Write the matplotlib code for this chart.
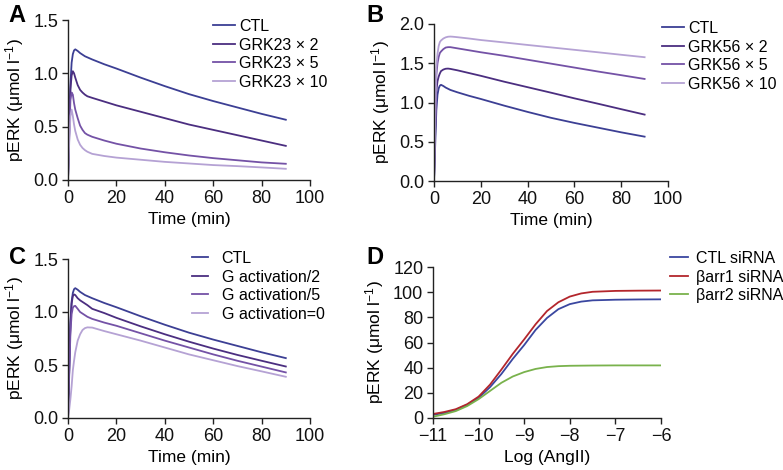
import matplotlib
matplotlib.use("Agg")
import matplotlib.pyplot as plt

plt.rcParams['font.family'] = ['Liberation Sans', 'DejaVu Sans']
plt.rcParams['mathtext.fontset'] = 'custom'
plt.rcParams['mathtext.rm'] = 'Liberation Sans'
plt.rcParams['mathtext.it'] = 'Liberation Sans:italic'
plt.rcParams['font.size'] = 12

# ---------------- data ----------------
time_min = [0, 0.5, 1, 1.5, 2, 2.5, 3, 4, 5, 6, 7, 8, 10, 15, 20, 30, 40, 50, 60, 70, 80, 90]

ctl = [0, 0.45, 0.9, 1.1, 1.18, 1.215, 1.225, 1.21, 1.19, 1.175, 1.16, 1.15, 1.13, 1.085, 1.045,
       0.96, 0.88, 0.805, 0.74, 0.68, 0.62, 0.565]

grk23_x2 = [0, 0.45, 0.85, 0.98, 1.02, 1.0, 0.96, 0.89, 0.845, 0.82, 0.8, 0.785, 0.77, 0.735, 0.7,
            0.64, 0.58, 0.52, 0.47, 0.42, 0.37, 0.32]
grk23_x5 = [0, 0.4, 0.75, 0.82, 0.8, 0.72, 0.66, 0.58, 0.51, 0.47, 0.44, 0.425, 0.405, 0.37, 0.34,
            0.295, 0.26, 0.23, 0.205, 0.185, 0.165, 0.152]
grk23_x10 = [0, 0.35, 0.6, 0.66, 0.6, 0.52, 0.46, 0.38, 0.33, 0.3, 0.28, 0.265, 0.245, 0.225, 0.21,
             0.19, 0.17, 0.155, 0.14, 0.13, 0.118, 0.105]

grk56_x2 = [0, 0.6, 1.15, 1.27, 1.33, 1.37, 1.40, 1.42, 1.43, 1.432, 1.428, 1.422, 1.41, 1.375, 1.34,
            1.265, 1.195, 1.125, 1.053, 0.985, 0.915, 0.846]
grk56_x5 = [0, 0.7, 1.35, 1.5, 1.58, 1.63, 1.65, 1.68, 1.70, 1.705, 1.705, 1.70, 1.69, 1.665, 1.64,
            1.595, 1.545, 1.495, 1.445, 1.395, 1.348, 1.30]
grk56_x10 = [0, 0.75, 1.45, 1.62, 1.72, 1.77, 1.79, 1.815, 1.83, 1.838, 1.84, 1.838, 1.832, 1.815, 1.796,
             1.765, 1.733, 1.702, 1.671, 1.64, 1.608, 1.577]

gact_2 = [0, 0.45, 0.88, 1.08, 1.15, 1.166, 1.16, 1.13, 1.11, 1.095, 1.08, 1.065, 1.03, 0.99, 0.945,
          0.865, 0.79, 0.72, 0.655, 0.595, 0.54, 0.486]
gact_5 = [0, 0.4, 0.8, 0.98, 1.04, 1.055, 1.058, 1.03, 1.0, 0.985, 0.97, 0.955, 0.935, 0.9, 0.87,
          0.8, 0.73, 0.665, 0.6, 0.54, 0.485, 0.43]
gact_0 = [0, 0.08, 0.18, 0.3, 0.45, 0.54, 0.62, 0.73, 0.79, 0.83, 0.848, 0.855, 0.853, 0.82, 0.79,
          0.73, 0.665, 0.6, 0.545, 0.49, 0.44, 0.389]

log_angii = [-11, -10.75, -10.5, -10.25, -10, -9.75, -9.5, -9.25, -9, -8.75, -8.5, -8.25, -8,
             -7.75, -7.5, -7, -6.5, -6]
ctl_sirna = [2.5, 4, 6.5, 10.5, 16, 24.5, 35, 47, 58, 70, 79.5, 86.5, 90.5, 92.5, 93.5, 94, 94.2, 94.3]
barr1_sirna = [3.2, 4.8, 7, 11, 17, 26.5, 38.5, 51, 62.5, 74.5, 85, 92, 96.5, 99, 100.3, 101, 101.2, 101.3]
barr2_sirna = [1, 3, 5.5, 9.5, 15, 21.5, 28, 33, 36.5, 39, 40.5, 41.2, 41.5, 41.6, 41.7, 41.8, 41.8, 41.8]

labels_a = ['CTL', 'GRK23 × 2', 'GRK23 × 5', 'GRK23 × 10']
labels_b = ['CTL', 'GRK56 × 2', 'GRK56 × 5', 'GRK56 × 10']
labels_c = ['CTL', 'G activation/2', 'G activation/5', 'G activation=0']
labels_d = ['CTL siRNA', 'βarr1 siRNA', 'βarr2 siRNA']

# ---------------- styling ----------------
c_ctl = '#3c3f94'
c_2 = '#4b2e80'
c_5 = '#7452a6'
c_10 = '#b5a2d4'
c_blue = '#3a47a0'
c_red = '#b3262c'
c_green = '#79b24c'
lw = 1.3

fig = plt.figure(figsize=(7.83, 4.70), dpi=100)
W, H = 783.0, 470.0

def axes_px(x0, y0, x1, y1):
    return fig.add_axes([x0 / W, 1 - y1 / H, (x1 - x0) / W, (y1 - y0) / H])

axA = axes_px(68, 20, 310, 180)
axB = axes_px(434, 24, 668, 181)
axC = axes_px(68, 259, 310, 418)
axD = axes_px(433, 267, 661, 418)

ylab = 'pERK (μmol l$^{-1}$)'
LAB = 12.5
LEGFS = 11.5

def style(ax):
    for s in ['top', 'right']:
        ax.spines[s].set_visible(False)
    for s in ['left', 'bottom']:
        ax.spines[s].set_linewidth(1.0)
        ax.spines[s].set_color('#222222')
    ax.tick_params(direction='out', length=4, width=1.0, colors='#222222',
                   labelsize=13, labelcolor='#111111', pad=3)

def leg(handles, labels, x, y, hl=1.35, htp=0.3, ls=0.22):
    fig.legend(handles, labels, loc='upper left', bbox_to_anchor=(x / W, 1 - y / H),
               frameon=False, borderpad=0, borderaxespad=0, handlelength=hl,
               handletextpad=htp, labelspacing=ls, fontsize=LEGFS)

# Panel A
hA = []
for vals, col in [(ctl, c_ctl), (grk23_x2, c_2), (grk23_x5, c_5), (grk23_x10, c_10)]:
    hA += axA.plot(time_min, vals, color=col, lw=lw)
axA.set_xlim(0, 100)
axA.set_ylim(0, 1.5)
axA.set_xticks([0, 20, 40, 60, 80, 100])
axA.set_yticks([0, 0.5, 1.0, 1.5])
axA.set_yticklabels(['0.0', '0.5', '1.0', '1.5'])
axA.set_xlabel('Time (min)', fontsize=LAB, labelpad=4)
axA.set_ylabel(ylab, fontsize=LAB, labelpad=5)
style(axA)
leg(hA, labels_a, 213, 19)

# Panel B
hB = []
for vals, col in [(ctl, c_ctl), (grk56_x2, c_2), (grk56_x5, c_5), (grk56_x10, c_10)]:
    hB += axB.plot(time_min, vals, color=col, lw=lw)
axB.set_xlim(0, 100)
axB.set_ylim(0, 2.0)
axB.set_xticks([0, 20, 40, 60, 80, 100])
axB.set_yticks([0, 0.5, 1.0, 1.5, 2.0])
axB.set_yticklabels(['0.0', '0.5', '1.0', '1.5', '2.0'])
axB.set_xlabel('Time (min)', fontsize=LAB, labelpad=4)
axB.set_ylabel(ylab, fontsize=LAB, labelpad=5)
style(axB)
leg(hB, labels_b, 662, 21)

# Panel C
hC = []
for vals, col in [(ctl, c_ctl), (gact_2, c_2), (gact_5, c_5), (gact_0, c_10)]:
    hC += axC.plot(time_min, vals, color=col, lw=lw)
axC.set_xlim(0, 100)
axC.set_ylim(0, 1.5)
axC.set_xticks([0, 20, 40, 60, 80, 100])
axC.set_yticks([0, 0.5, 1.0, 1.5])
axC.set_yticklabels(['0.0', '0.5', '1.0', '1.5'])
axC.set_xlabel('Time (min)', fontsize=LAB, labelpad=4)
axC.set_ylabel(ylab, fontsize=LAB, labelpad=5)
style(axC)
leg(hC, labels_c, 192, 251, hl=1.0, htp=0.85)

# Panel D
hD = []
for vals, col in [(ctl_sirna, c_blue), (barr1_sirna, c_red), (barr2_sirna, c_green)]:
    hD += axD.plot(log_angii, vals, color=col, lw=lw)
axD.set_xlim(-11, -6)
axD.set_ylim(0, 120)
axD.set_xticks([-11, -10, -9, -8, -7, -6])
axD.set_yticks([0, 20, 40, 60, 80, 100, 120])
axD.set_xlabel('Log (AngII)', fontsize=LAB, labelpad=4)
axD.set_ylabel(ylab, fontsize=LAB, labelpad=5)
style(axD)
leg(hD, labels_d, 670, 251, hl=1.1, htp=0.5)

# Panel letters
for txt, x, y in [('A', 17, 16), ('B', 375, 16), ('C', 17, 258), ('D', 375, 258)]:
    fig.text(x / W, 1 - y / H, txt, fontsize=17, fontweight='bold', ha='center', va='center')

fig.savefig('out.png', dpi=100)
